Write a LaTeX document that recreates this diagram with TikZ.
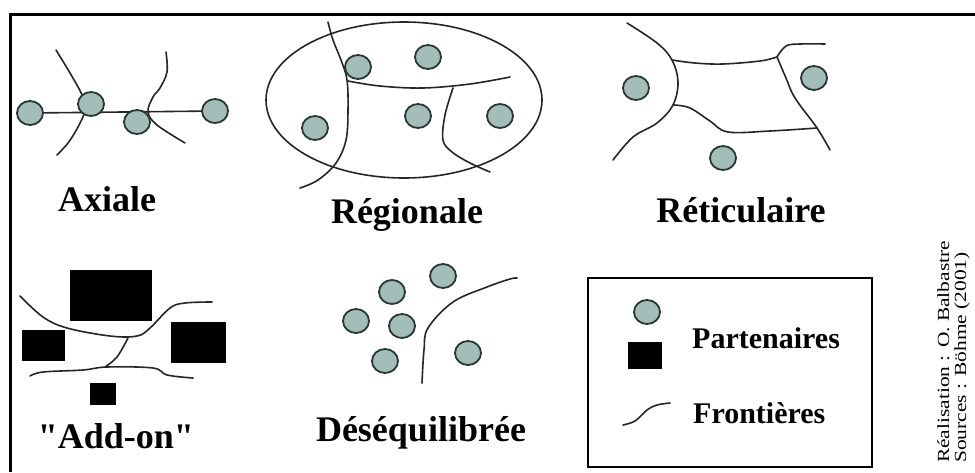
\documentclass[tikz,border=0pt]{standalone}
\usepackage{fontspec}
\usepackage{graphicx}
\setmainfont{Liberation Serif}
\newfontfamily\qfont[Ligatures=TeXOff]{Liberation Serif}
\usetikzlibrary{shapes.geometric,backgrounds}
\definecolor{partfill}{RGB}{163,189,184}
\definecolor{partline}{RGB}{40,55,52}
\begin{document}
\begin{tikzpicture}[x=1pt,y=-1pt,
 partner/.style={ellipse,draw=partline,line width=1.8pt,fill=partfill,minimum width=26pt,minimum height=24pt,inner sep=0pt},
 block/.style={rectangle,fill=black,draw=none,inner sep=0pt},
 border/.style={draw=black!85,line width=1.6pt,line cap=round,line join=round},
 title/.style={font=\fontsize{36}{40}\selectfont\bfseries,inner sep=0pt,anchor=base},
 legtext/.style={font=\fontsize{30}{34}\selectfont\bfseries,inner sep=0pt,anchor=base west},
 credit/.style={font=\fontsize{17}{19}\selectfont,inner sep=0pt,anchor=base west,rotate=90}]
\useasboundingbox (0,0) rectangle (975,472);
% outer frame
\draw[line width=3pt] (975,14) -- (10,14) -- (10,472);

% ---------- Axiale ----------
\draw[border] plot[smooth,tension=0.6] coordinates {(56,50) (70,73) (82,95) (85,110) (78,127) (68,143) (57,155)};
\draw[border] plot[smooth,tension=0.6] coordinates {(166,52) (167,72) (160,88) (153,97) (148,112) (157,125) (185,143)};
\node[partner] (a1) at (30,113) {};
\node[partner] (a2) at (91,104) {};
\node[partner] (a3) at (137,122) {};
\node[partner] (a4) at (215,111) {};
\node[title] (tax) at (107,211) {Axiale};

% ---------- Regionale ----------
\draw[line width=1.6pt,draw=black!85] (404,100) ellipse [x radius=138pt, y radius=78pt];
\draw[border] plot[smooth,tension=0.6] coordinates {(328,22) (333,40) (341,60) (347,80) (348,110) (346,140) (336,163) (318,180) (300,188)};
\draw[border] plot[smooth,tension=0.6] coordinates {(348,81) (380,86) (423,88) (470,84) (510,77)};
\draw[border] plot[smooth,tension=0.6] coordinates {(453,88) (445,115) (443,140) (452,152) (470,163) (490,172)};
\node[partner] (r1) at (358,67) {};
\node[partner] (r2) at (428,57) {};
\node[partner] (r3) at (315,128) {};
\node[partner] (r4) at (418,116) {};
\node[partner] (r5) at (500,116) {};
\node[title] (treg) at (407,223) {Régionale};

% ---------- Reticulaire ----------
\draw[border] plot[smooth,tension=0.6] coordinates {(627,23) (657,43) (672,60) (678,82) (673,105) (657,123) (633,137) (613,160)};
\draw[border] plot[smooth,tension=0.6] coordinates {(672,60) (695,63) (723,64) (760,61) (777,57)};
\draw[border] plot[smooth,tension=0.6] coordinates {(777,57) (786,46) (800,44) (825,44)};
\draw[border] plot[smooth,tension=0.6] coordinates {(777,57) (786,78) (795,98) (817,128) (830,150)};
\draw[border] plot[smooth,tension=0.6] coordinates {(674,105) (690,108) (710,121) (728,132) (770,131) (817,128)};
\node[partner] (t1) at (636,88) {};
\node[partner] (t2) at (814,78) {};
\node[partner] (t3) at (723,158) {};
\node[title] (tret) at (741,222) {Réticulaire};

% ---------- Add-on ----------
\draw[border] plot[smooth,tension=0.6] coordinates {(20,296) (43,317) (67,328) (110,336) (137,336) (150,328) (170,308) (185,303) (212,302)};
\draw[border] plot[smooth,tension=0.6] coordinates {(128,338) (117,357) (105,367)};
\draw[border] plot[smooth,tension=0.6] coordinates {(30,376) (43,372) (83,370) (107,367) (153,368) (167,375) (193,378)};
\node[block,minimum width=82pt,minimum height=51pt] (b1) at (111,295.5) {};
\node[block,minimum width=43pt,minimum height=31pt] (b2) at (43.5,345.5) {};
\node[block,minimum width=55pt,minimum height=41pt] (b3) at (198.5,342.5) {};
\node[block,minimum width=26pt,minimum height=22pt] (b4) at (103,394) {};
\node[title] (tadd) at (116,448) {\qfont\bfseries "Add-on"};

% ---------- Desequilibree ----------
\draw[border] plot[smooth,tension=0.6] coordinates {(422,383) (424,350) (428,328) (453,302) (487,287) (510,279) (517,278)};
\node[partner] (d1) at (443,276) {};
\node[partner] (d2) at (392,292) {};
\node[partner] (d3) at (356,321) {};
\node[partner] (d4) at (402,326) {};
\node[partner] (d5) at (385,361) {};
\node[partner] (d6) at (468,353) {};
\node[title] (tdes) at (421,441) {Déséquilibrée};

% ---------- Legend ----------
\draw[line width=2.4pt] (588,278) rectangle (872,467);
\node[partner] (lc) at (647,312) {};
\node[block,minimum width=34pt,minimum height=27pt] (ls) at (645,355.5) {};
\draw[border] plot[smooth,tension=0.6] coordinates {(623,425) (635,421) (647,410) (657,405) (670,403)};
\node[legtext] (lp) at (692,348) {Partenaires};
\node[legtext] (lf) at (693,423) {Frontières};

% ---------- Credits ----------
\node[credit] (c1) at (949,463) {\scalebox{1.26}[1]{Réalisation : O. Balbastre}};
\node[credit] (c2) at (966,463) {\scalebox{1.26}[1]{Sources : Böhme (2001)}};

% connector of the axial network, behind the partners
\begin{scope}[on background layer]
\fill[white] (0,0) rectangle (975,472);
\draw[border] (a1) -- (a4);
\end{scope}
\end{tikzpicture}
\end{document}
